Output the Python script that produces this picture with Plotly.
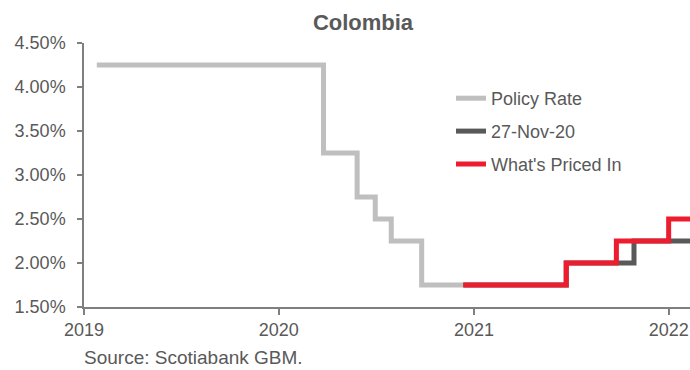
import plotly.graph_objects as go

# Colombia: policy rate history and market-implied path (step series, % levels)
policy_dates = ["2019-01-25", "2020-03-25", "2020-05-27", "2020-06-30",
                "2020-07-30", "2020-09-25", "2020-12-12"]
policy_rate = [4.25, 3.25, 2.75, 2.50, 2.25, 1.75, 1.75]

nov27_dates = ["2020-12-12", "2021-06-23", "2021-10-28", "2022-02-20"]
nov27_rate = [1.75, 2.00, 2.25, 2.25]

priced_dates = ["2020-12-12", "2021-06-23", "2021-09-25", "2022-01-01", "2022-02-20"]
priced_rate = [1.75, 2.00, 2.25, 2.50, 2.50]

year_ticks = ["2019-01-01", "2020-01-01", "2021-01-01", "2022-01-01"]
year_labels = ["2019", "2020", "2021", "2022"]
y_ticks = [1.5, 2.0, 2.5, 3.0, 3.5, 4.0, 4.5]
y_labels = [f"{v:.2f}%" for v in y_ticks]

FONT = "Liberation Sans, Arial, sans-serif"
TXT = "#595959"
AXIS = "#7f7f7f"

fig = go.Figure()
series = [
    ("Policy Rate", policy_dates, policy_rate, "#BFBFBF"),
    ("27-Nov-20", nov27_dates, nov27_rate, "#595959"),
    ("What's Priced In", priced_dates, priced_rate, "#ED1C2E"),
]
for name, xs, ys, col in series:
    fig.add_trace(go.Scatter(
        x=xs, y=ys, name=name, mode="lines",
        line=dict(color=col, width=5, shape="hv"),
        legendgroup=name,
    ))

fig.update_layout(
    width=690, height=370,
    margin=dict(l=84, r=0, t=43, b=63),
    paper_bgcolor="white", plot_bgcolor="white",
    font=dict(family=FONT, size=18, color=TXT),
    showlegend=True,
    legend=dict(
        x=(451 - 84) / 606, xanchor="left",
        y=1 - (80 - 43) / 264, yanchor="top",
        bgcolor="rgba(0,0,0,0)",
        font=dict(family=FONT, size=18, color=TXT),
        tracegroupgap=6.5,
    ),
    title=dict(
        text="<b>Colombia</b>",
        font=dict(family=FONT, size=22, color=TXT),
        x=(363 - 84) / 606, xref="paper", xanchor="center",
        y=1 - 22 / 370, yref="container", yanchor="middle",
    ),
    xaxis=dict(
        type="date",
        range=["2019-01-01", "2022-02-10"],
        tickvals=year_ticks, ticktext=year_labels,
        ticks="outside", ticklen=6, tickwidth=1.5, tickcolor=AXIS,
        showline=True, linecolor=AXIS, linewidth=1.5,
        showgrid=False, zeroline=False,
        tickfont=dict(family=FONT, size=18, color=TXT),
    ),
    yaxis=dict(
        range=[1.5, 4.5],
        tickvals=y_ticks, ticktext=y_labels,
        ticks="outside", ticklen=5, tickwidth=1.5, tickcolor=AXIS,
        showline=True, linecolor=AXIS, linewidth=1.5,
        showgrid=False, zeroline=False,
        tickfont=dict(family=FONT, size=18, color=TXT),
        ticklabelstandoff=8,
    ),
    annotations=[dict(
        text="Source: Scotiabank GBM.",
        xref="paper", yref="paper",
        x=-0.003, xanchor="left",
        y=-(357 - 307) / 264, yanchor="middle",
        showarrow=False,
        font=dict(family=FONT, size=19, color=TXT),
    )],
)

fig.write_html("out.html")
